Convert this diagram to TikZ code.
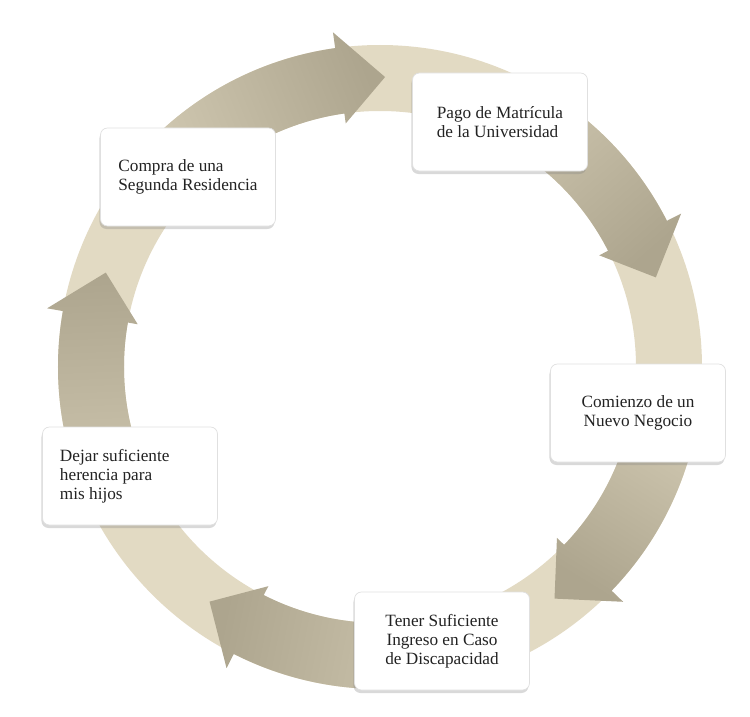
\documentclass[tikz,border=0pt]{standalone}
\usepackage{fontspec}
\setmainfont{Liberation Serif}
\usepackage{tikz}
\usetikzlibrary{shadows}
\definecolor{ringlight}{HTML}{E2DAC3}
\definecolor{ringmid}{HTML}{CEC6AF}
\definecolor{ringdark}{HTML}{ADA58E}
\definecolor{boxtext}{HTML}{222222}

\begin{document}
\begin{tikzpicture}[
    stagebox/.style={rectangle, rounded corners=0.14cm, fill=white, draw=black!12, minimum width=3.5cm, minimum height=1.96cm, inner xsep=0pt, font=\fontsize{9.8}{10.8}\selectfont, text=boxtext, drop shadow={shadow xshift=-0.02cm, shadow yshift=-0.06cm, opacity=0.3}},
    ringshade/.style={shading=axis, top color=ringdark, bottom color=ringmid, shading angle=#1}
]
\useasboundingbox (-7.6,-7.0) rectangle (7.4,7.34);

\fill[ringlight, even odd rule] (0,0) circle (6.44) (0,0) circle (5.12);
\foreach \s/\t in {135/89, 64/18, -10/-53, -77/-126, 204/161} {
    \pgfmathsetmacro{\b}{\t+9}
    \pgfmathsetmacro{\sa}{(\s+\t)/2-180}
    \shade[ringshade=\sa] (\s:6.44) arc[start angle=\s, end angle=\b, radius=6.44]
        -- (\b:6.76) -- (\t:5.8) -- (\b:4.92) -- (\b:5.12)
        arc[start angle=\b, end angle=\s, radius=5.12] -- cycle;
}

\node[stagebox, align=flush left] (pago) at (2.4,4.9) {Pago de Matrícula\\de la Universidad};
\node[stagebox, align=flush left] (compra) at (-3.84,3.8) {Compra de una\\Segunda Residencia};
\node[stagebox, align=center] (comienzo) at (5.16,-0.92) {Comienzo de un\\Nuevo Negocio};
\node[stagebox, align=center] (tener) at (1.24,-5.48) {Tener Suficiente\\Ingreso en Caso\\de Discapacidad};
\node[stagebox, align=flush left, text width=2.8cm] (dejar) at (-5.0,-2.18) {Dejar suficiente\\herencia para\\mis hijos};
\end{tikzpicture}
\end{document}
